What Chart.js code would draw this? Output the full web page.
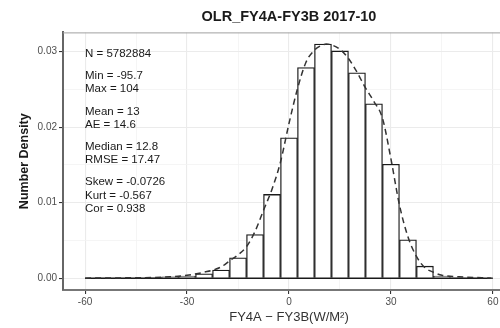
<!DOCTYPE html>
<html>
<head>
<meta charset="utf-8">
<script src="https://cdn.jsdelivr.net/npm/chart.js@4/dist/chart.umd.min.js"></script>
<style>
  html, body { margin: 0; padding: 0; background: #fff; }
  body { width: 500px; height: 328px; overflow: hidden; position: relative; }
  #wrap { position: absolute; left: 0; top: 0; width: 520px; height: 328px; }
  .frame { position: absolute; border: 0 solid #c8c8c8; }
</style>
</head>
<body>
<div class="frame" style="left:12px;top:5px;width:147px;height:400px;border-left-width:1px;border-top-width:1px;"></div>
<div class="frame" style="left:159px;top:-2px;width:0;height:7px;border-left-width:1px;"></div>
<div class="frame" style="left:441px;top:-2px;width:100px;height:6px;border-left-width:1px;border-bottom-width:1px;"></div>
<div id="wrap"><canvas id="hist" width="520" height="328"></canvas></div>
<script>
// histogram of FY4A - FY3B OLR differences, bin width 5
const binCenters = [-55, -50, -45, -40, -35, -30, -25, -20, -15, -10, -5, 0, 5, 10, 15, 20, 25, 30, 35, 40, 45, 50, 55]
const binDensity = [0.00002, 0.00003, 0.00005, 0.0001, 0.0002, 0.0003, 0.0006, 0.0011, 0.0027, 0.0058, 0.0111, 0.0186,
                    0.0279, 0.0310, 0.0301, 0.0272, 0.0231, 0.0151, 0.0051, 0.0016, 0.0003, 0.00005, 0.00002]

// dashed density curve
const curveX = [-60, -50, -40, -35, -30, -25, -20, -17.5, -15, -12.5, -10, -7.5, -5, -2.5, 0, 2.5, 5, 7.5, 10, 11, 12.5,
                15, 17.5, 20, 22.5, 25, 27.5, 30, 32.5, 35, 37.5, 40, 42.5, 45, 50, 60]
const curveY = [0.00002, 0.00005, 0.0001, 0.0002, 0.0004, 0.0008, 0.0015, 0.0023, 0.0031, 0.0042, 0.0062, 0.009, 0.0118,
                0.0154, 0.0205, 0.0251, 0.0286, 0.0302, 0.0309, 0.031, 0.0309, 0.0303, 0.0291, 0.0273, 0.0252, 0.0234,
                0.0212, 0.0158, 0.0097, 0.0055, 0.0029, 0.0014, 0.0008, 0.0004, 0.0002, 0.00002]

const histRange = [-60, 59.5]

const xTicks = [-60, -45, -30, -15, 0, 15, 30, 45, 60]
const xMajor = [-60, -30, 0, 30, 60]
const yTicks = [0, 0.005, 0.01, 0.015, 0.02, 0.025, 0.03]
const yMajor = [0, 0.01, 0.02, 0.03]

const statGroups = [
    ['N = 5782884'],
    ['Min = -95.7', 'Max = 104'],
    ['Mean = 13', 'AE = 14.6'],
    ['Median = 12.8', 'RMSE = 17.47'],
    ['Skew = -0.0726', 'Kurt = -0.567', 'Cor = 0.938']
]

const FONT = "'Liberation Sans', Arial, Helvetica, sans-serif"

const isMajor = (list, v) => list.some(m => Math.abs(m - v) < 1e-9)

const panelExtras = {
    id: 'panelExtras',
    beforeDraw(chart) {
        const c = chart.ctx
        c.save()
        c.fillStyle = '#fff'
        c.fillRect(0, 0, chart.width, chart.height)
        c.restore()
    },
    afterDraw(chart) {
        const {ctx: c, chartArea: a} = chart
        c.save()
        // top panel border
        c.strokeStyle = '#a0a0a0'
        c.lineWidth = 1
        c.beginPath()
        c.moveTo(a.left, a.top + 0.5)
        c.lineTo(a.right, a.top + 0.5)
        c.stroke()
        // stats text
        c.fillStyle = '#1a1a1a'
        c.font = '11.5px ' + FONT
        c.textAlign = 'left'
        c.textBaseline = 'middle'
        let y = a.top + 21.5
        statGroups.forEach((g, gi) => {
            if (gi > 0) y += 9
            g.forEach(line => {
                c.fillText(line, a.left + 22, y)
                y += 13.2
            })
        })
        c.restore()
    }
}

const ctx = document.getElementById('hist').getContext('2d')
const chart = new Chart(ctx, {
    type: 'bar',
    data: {
        datasets: [
            {
                type: 'line',
                order: 0,
                data: curveX.map((x, i) => ({x: x, y: curveY[i]})),
                borderColor: '#333',
                borderWidth: 1.5,
                borderDash: [6, 4],
                pointRadius: 0,
                tension: 0.4,
                cubicInterpolationMode: 'monotone',
                fill: false
            },
            {
                type: 'line',
                order: 1,
                data: histRange.map(x => ({x: x, y: 0})),
                borderColor: '#1a1a1a',
                borderWidth: 1.4,
                pointRadius: 0,
                fill: false
            },
            {
                type: 'bar',
                order: 2,
                data: binCenters.map((x, i) => ({x: x, y: binDensity[i]})),
                backgroundColor: '#fff',
                borderColor: '#1a1a1a',
                borderWidth: 1.3,
                barPercentage: 1,
                categoryPercentage: 1
            }
        ]
    },
    options: {
        responsive: false,
        animation: false,
        devicePixelRatio: 1,
        layout: {padding: {left: 0, right: 5, top: 0, bottom: 0}},
        plugins: {
            legend: {display: false},
            tooltip: {enabled: false},
            title: {
                display: true,
                text: 'OLR_FY4A-FY3B 2017-10',
                fullSize: false,
                color: '#1a1a1a',
                font: {family: FONT, size: 14.5, weight: 'bold'},
                padding: {top: 8, bottom: 7}
            }
        },
        scales: {
            x: {
                type: 'linear',
                min: -66.5,
                max: 66.5,
                offset: false,
                afterBuildTicks: s => { s.ticks = xTicks.map(v => ({value: v})) },
                afterFit: s => { s.height = 38 },
                ticks: {
                    autoSkip: false,
                    maxRotation: 0,
                    color: '#4d4d4d',
                    font: {family: FONT, size: 10},
                    padding: 2,
                    callback: v => isMajor(xMajor, v) ? String(v) : ''
                },
                grid: {
                    offset: false,
                    color: c => isMajor(xMajor, c.tick.value) ? '#ebebeb' : '#f3f3f3',
                    lineWidth: c => isMajor(xMajor, c.tick.value) ? 1.1 : 0.8,
                    tickColor: c => isMajor(xMajor, c.tick.value) ? '#333' : 'rgba(0,0,0,0)',
                    tickLength: 4
                },
                border: {color: '#777', width: 2},
                title: {
                    display: true,
                    text: 'FY4A − FY3B(W/M²)',
                    color: '#333',
                    font: {family: FONT, size: 13},
                    padding: {top: 0, bottom: 3}
                }
            },
            y: {
                min: -0.00155,
                max: 0.03255,
                afterBuildTicks: s => { s.ticks = yTicks.map(v => ({value: v})) },
                afterFit: s => { s.width = 63 },
                ticks: {
                    color: '#4d4d4d',
                    font: {family: FONT, size: 10},
                    padding: 2,
                    callback: v => isMajor(yMajor, v) ? v.toFixed(2) : ''
                },
                grid: {
                    color: c => isMajor(yMajor, c.tick.value) ? '#ebebeb' : '#f3f3f3',
                    lineWidth: c => isMajor(yMajor, c.tick.value) ? 1.1 : 0.8,
                    tickColor: c => isMajor(yMajor, c.tick.value) ? '#333' : 'rgba(0,0,0,0)',
                    tickLength: 4
                },
                border: {color: '#666', width: 2},
                title: {
                    display: true,
                    text: 'Number Density',
                    color: '#1a1a1a',
                    font: {family: FONT, size: 12.5, weight: 'bold'},
                    padding: {top: 17, bottom: 0}
                }
            }
        }
    },
    plugins: [panelExtras]
})
</script>
</body>
</html>
